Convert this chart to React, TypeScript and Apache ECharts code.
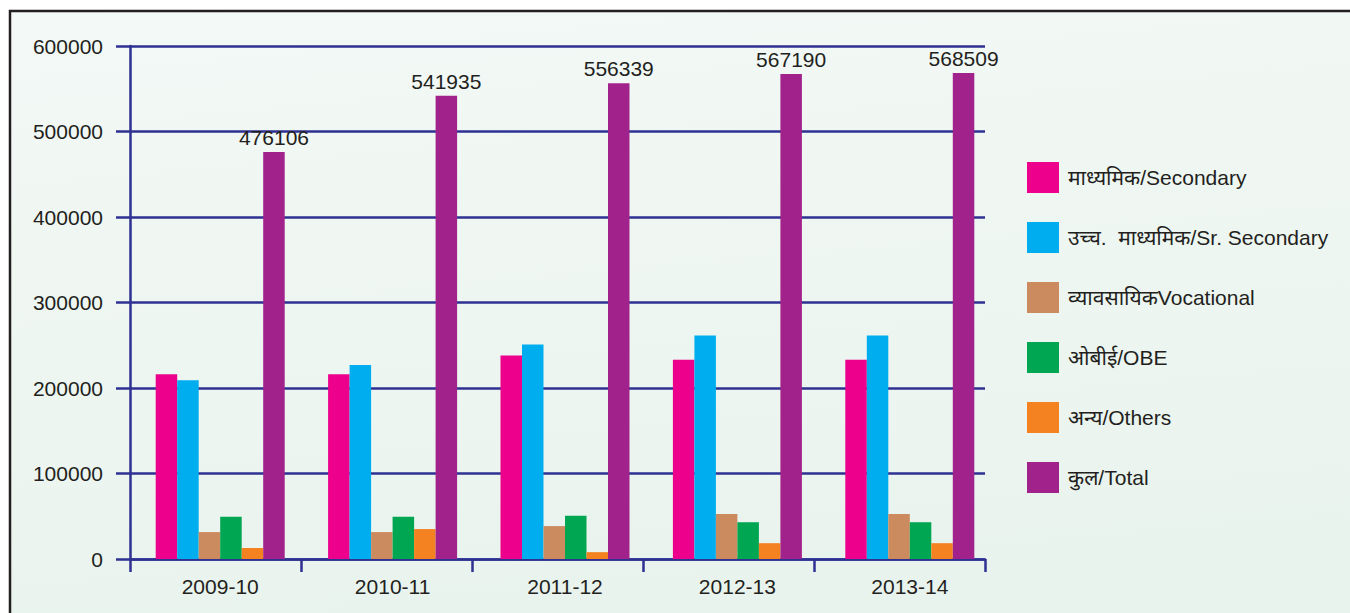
import React, { useEffect, useRef } from "react";
import * as echarts from "echarts";

const categories = ["2009-10", "2010-11", "2011-12", "2012-13", "2013-14"];
const seriesNames = [
  "माध्यमिक/Secondary",
  "उच्च.  माध्यमिक/Sr. Secondary",
  "व्यावसायिकVocational",
  "ओबीई/OBE",
  "अन्य/Others",
  "कुल/Total",
];
const secondary = [216000, 216000, 238000, 233000, 233000];
const srSecondary = [209000, 227000, 251000, 261500, 261500];
const vocational = [31500, 31500, 38500, 52500, 52500];
const obe = [49500, 49500, 50500, 43000, 43000];
const others = [13000, 35000, 8000, 18500, 18500];
const total = [476106, 541935, 556339, 567190, 568509];
const colors = ["#ec008c", "#00aeef", "#cc8b5e", "#00a651", "#f58220", "#a2228c"];

const FONT = "'Liberation Sans', 'Noto Sans', Arial, sans-serif";
const TEXT = "#231f20";
const AXIS = "#2e3192";

export default function App() {
  const ref = useRef<HTMLDivElement>(null);
  useEffect(() => {
    if (!ref.current) return;
    const chart = echarts.init(ref.current, undefined, { renderer: "svg" });
    const values = [secondary, srSecondary, vocational, obe, others, total];
    const option: any = {
      animation: false,
      textStyle: { fontFamily: FONT },
      graphic: [
        {
          type: "rect",
          z: -10,
          shape: { x: 10, y: 11, width: 1360, height: 620 },
          style: {
            fill: new echarts.graphic.LinearGradient(0, 0, 0.2, 1, [
              { offset: 0, color: "#f3f9f6" },
              { offset: 1, color: "#e9f3ed" },
            ]),
            stroke: TEXT,
            lineWidth: 2.5,
          },
        },
      ],
      legend: {
        orient: "vertical",
        left: 1027,
        top: 162,
        padding: 0,
        itemWidth: 32,
        itemHeight: 31,
        itemGap: 29,
        icon: "rect",
        data: seriesNames,
        textStyle: { fontSize: 21, color: TEXT, fontFamily: FONT, padding: [0, 0, 0, 4] },
      },
      grid: [
        { left: 130, top: 46, width: 855, height: 513 },
        { left: 134, top: 46, width: 862, height: 513 },
      ],
      xAxis: [
        {
          type: "category",
          gridIndex: 0,
          data: categories,
          axisLine: { lineStyle: { color: AXIS, width: 2.5 } },
          axisTick: { show: true, length: 13, lineStyle: { color: AXIS, width: 2.5 } },
          axisLabel: { show: false },
        },
        {
          type: "category",
          gridIndex: 1,
          data: categories,
          axisLine: { show: false },
          axisTick: { show: false },
          axisLabel: { show: true, fontSize: 21, color: TEXT, fontFamily: FONT, margin: 17 },
        },
      ],
      yAxis: [
        {
          type: "value",
          gridIndex: 0,
          min: 0,
          max: 600000,
          interval: 100000,
          axisLine: { show: true, lineStyle: { color: AXIS, width: 2.5 } },
          axisTick: { show: true, length: 14, lineStyle: { color: AXIS, width: 2.5 } },
          splitLine: { show: true, lineStyle: { color: AXIS, width: 2.5 } },
          axisLabel: {
            fontSize: 21,
            color: TEXT,
            fontFamily: FONT,
            margin: 27,
            formatter: (v: number) => String(v),
          },
        },
        {
          type: "value",
          gridIndex: 1,
          min: 0,
          max: 600000,
          interval: 100000,
          show: false,
          splitLine: { show: false },
        },
      ],
      series: values.map((v, i) => ({
        name: seriesNames[i],
        type: "bar",
        xAxisIndex: 1,
        yAxisIndex: 1,
        data: v,
        barWidth: 21.5,
        barGap: "0%",
        itemStyle: { color: colors[i] },
        label:
          i === 5
            ? { show: true, position: "top", distance: 4, fontSize: 21, color: TEXT, fontFamily: FONT }
            : { show: false },
      })),
    };
    chart.setOption(option);
    return () => chart.dispose();
  }, []);
  return (
    <div
      ref={ref}
      style={{ position: "fixed", left: 0, top: 0, width: 1350, height: 613, background: "#ffffff" }}
    />
  );
}
